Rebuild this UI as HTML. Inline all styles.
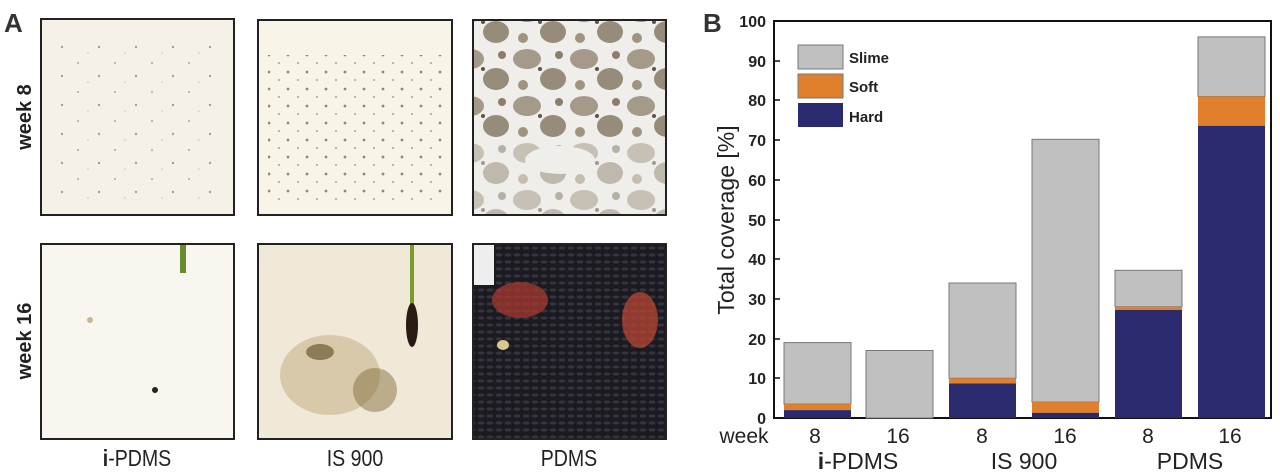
<!DOCTYPE html>
<html><head><meta charset="utf-8"><style>
html,body{margin:0;padding:0;background:#fff;width:1280px;height:474px;overflow:hidden}
svg{display:block}
text{font-family:"Liberation Sans",sans-serif}
</style></head><body>
<svg width="1280" height="474" viewBox="0 0 1280 474" xmlns="http://www.w3.org/2000/svg">
<defs>
<pattern id="dots1" width="37" height="29" patternUnits="userSpaceOnUse">
<circle cx="4" cy="5" r="1" fill="#6b5a40" opacity=".5"/><circle cx="25" cy="18" r="1.2" fill="#4a3a28" opacity=".45"/><circle cx="14" cy="24" r="0.8" fill="#8a7a60" opacity=".4"/></pattern>
<pattern id="dots2" width="19" height="17" patternUnits="userSpaceOnUse">
<circle cx="3" cy="4" r="1.4" fill="#2a2a22" opacity=".7"/><circle cx="13" cy="12" r="1" fill="#3a3020" opacity=".55"/></pattern>
<pattern id="blot" width="57" height="47" patternUnits="userSpaceOnUse">
<ellipse cx="14" cy="12" rx="14" ry="10" fill="#a59a8a"/><ellipse cx="40" cy="32" rx="13" ry="11" fill="#978c7a"/><circle cx="46" cy="8" r="4" fill="#8a7e6c"/><circle cx="10" cy="38" r="5" fill="#a09480"/><circle cx="27" cy="22" r="2" fill="#5e5448"/></pattern>
<pattern id="muss" width="9" height="7" patternUnits="userSpaceOnUse">
<rect width="9" height="7" fill="#1a1a20"/><ellipse cx="4" cy="3" rx="3.5" ry="1.6" fill="#34343e"/></pattern>
</defs>
<text x="4" y="32" font-size="26" font-weight="bold" fill="#333">A</text>
<text transform="translate(31,117) rotate(-90)" font-size="20" font-weight="bold" fill="#222" text-anchor="middle">week 8</text>
<text transform="translate(31,341) rotate(-90)" font-size="20" font-weight="bold" fill="#222" text-anchor="middle">week 16</text>
<rect x="41" y="19" width="193" height="196" fill="#f6f1e6" stroke="#222" stroke-width="2"/>
<rect x="55" y="35" width="165" height="170" fill="url(#dots1)"/>
<rect x="258" y="20" width="194" height="195" fill="#f8f4e8" stroke="#222" stroke-width="2"/>
<rect x="268" y="55" width="175" height="150" fill="url(#dots2)" opacity=".75"/>
<rect x="473" y="20" width="193" height="195" fill="#f0eeea" stroke="#222" stroke-width="2"/>
<rect x="474" y="21" width="191" height="120" fill="url(#blot)"/>
<rect x="474" y="141" width="191" height="73" fill="url(#blot)" opacity=".55"/>
<ellipse cx="560" cy="160" rx="35" ry="14" fill="#f0eeea"/>
<rect x="41" y="244" width="193" height="195" fill="#f8f6ee" stroke="#222" stroke-width="2"/>
<rect x="180" y="245" width="6" height="28" fill="#6a8a30"/>
<circle cx="155" cy="390" r="3" fill="#222"/><circle cx="90" cy="320" r="3" fill="#c8b890"/>
<rect x="258" y="244" width="194" height="195" fill="#f1e9d8" stroke="#222" stroke-width="2"/>
<ellipse cx="330" cy="375" rx="50" ry="40" fill="#a8905a" opacity=".35"/>
<ellipse cx="375" cy="390" rx="22" ry="22" fill="#7a6430" opacity=".45"/>
<ellipse cx="320" cy="352" rx="14" ry="8" fill="#5a4a20" opacity=".6"/>
<rect x="410" y="245" width="4" height="60" fill="#7a9a30"/>
<ellipse cx="412" cy="325" rx="6" ry="22" fill="#2a1a14"/>
<rect x="473" y="244" width="193" height="195" fill="url(#muss)" stroke="#222" stroke-width="2"/>
<rect x="474" y="245" width="20" height="40" fill="#eee"/>
<ellipse cx="520" cy="300" rx="28" ry="18" fill="#a83a30" opacity=".75"/>
<ellipse cx="640" cy="320" rx="18" ry="28" fill="#b84636" opacity=".75"/>
<ellipse cx="503" cy="345" rx="6" ry="5" fill="#d8c890"/>
<g font-size="23" fill="#222" text-anchor="middle">
<text x="137" y="466" transform="translate(137,0) scale(0.85,1) translate(-137,0)"><tspan font-weight="bold">i</tspan>-PDMS</text>
<text x="355" y="466" transform="translate(355,0) scale(0.85,1) translate(-355,0)">IS 900</text>
<text x="569" y="466" transform="translate(569,0) scale(0.85,1) translate(-569,0)">PDMS</text>
</g>
<text x="703" y="32" font-size="26" font-weight="bold" fill="#333">B</text>
<rect x="774" y="21" width="497" height="397" fill="#fff" stroke="#111" stroke-width="2"/>
<g stroke="#111" stroke-width="1.5">
<line x1="774" y1="378" x2="780" y2="378"/><line x1="774" y1="339" x2="780" y2="339"/><line x1="774" y1="299" x2="780" y2="299"/><line x1="774" y1="259" x2="780" y2="259"/><line x1="774" y1="220" x2="780" y2="220"/><line x1="774" y1="180" x2="780" y2="180"/><line x1="774" y1="140" x2="780" y2="140"/><line x1="774" y1="100" x2="780" y2="100"/><line x1="774" y1="61" x2="780" y2="61"/>
</g>
<g font-size="16" font-weight="bold" fill="#222" text-anchor="end">
<text x="766" y="424">0</text><text x="766" y="384">10</text><text x="766" y="345">20</text><text x="766" y="305">30</text><text x="766" y="265">40</text><text x="766" y="226">50</text><text x="766" y="186">60</text><text x="766" y="146">70</text><text x="766" y="106">80</text><text x="766" y="67">90</text><text x="766" y="27">100</text>
</g>
<text transform="translate(734,220) rotate(-90)" font-size="23" fill="#222" text-anchor="middle">Total coverage [%]</text>
<g stroke="#777" stroke-width="1">
<rect x="784" y="342.6" width="67" height="61.5" fill="#c0c0c0"/>
<rect x="784" y="404.1" width="67" height="6" fill="#e0802c" stroke="none"/>
<rect x="784" y="410.1" width="67" height="7.9" fill="#2b2a6e" stroke="none"/>
<rect x="866" y="350.5" width="67" height="67.5" fill="#c0c0c0"/>
<rect x="949" y="283" width="67" height="95.3" fill="#c0c0c0"/>
<rect x="949" y="378.3" width="67" height="5.2" fill="#e0802c" stroke="none"/>
<rect x="949" y="383.5" width="67" height="34.5" fill="#2b2a6e" stroke="none"/>
<rect x="1032" y="139.3" width="67" height="262.8" fill="#c0c0c0"/>
<rect x="1032" y="402.1" width="67" height="10.7" fill="#e0802c" stroke="none"/>
<rect x="1032" y="412.8" width="67" height="5.2" fill="#2b2a6e" stroke="none"/>
<rect x="1115" y="270.3" width="67" height="36.5" fill="#c0c0c0"/>
<rect x="1115" y="306.8" width="67" height="3.2" fill="#e0802c" stroke="none"/>
<rect x="1115" y="310" width="67" height="108" fill="#2b2a6e" stroke="none"/>
<rect x="1198" y="36.9" width="67" height="59.6" fill="#c0c0c0"/>
<rect x="1198" y="96.4" width="67" height="29.4" fill="#e0802c" stroke="none"/>
<rect x="1198" y="125.8" width="67" height="292.2" fill="#2b2a6e" stroke="none"/>
</g>
<rect x="798" y="45" width="45" height="24" fill="#c0c0c0" stroke="#777"/>
<rect x="798" y="74" width="45" height="24" fill="#e0802c" stroke="#777"/>
<rect x="798" y="103" width="45" height="24" fill="#2b2a6e"/>
<g font-size="15" font-weight="bold" fill="#222">
<text x="849" y="63">Slime</text><text x="849" y="92">Soft</text><text x="849" y="122">Hard</text>
</g>
<g font-size="21" fill="#222" text-anchor="middle">
<text x="744" y="443">week</text>
<text x="815" y="443">8</text><text x="898" y="443">16</text><text x="982" y="443">8</text><text x="1065" y="443">16</text><text x="1148" y="443">8</text><text x="1230" y="443">16</text>
</g>
<g font-size="23" fill="#222" text-anchor="middle">
<text x="858" y="469"><tspan font-weight="bold">i</tspan>-PDMS</text>
<text x="1024" y="469">IS 900</text>
<text x="1190" y="469">PDMS</text>
</g>
</svg>
</body></html>
